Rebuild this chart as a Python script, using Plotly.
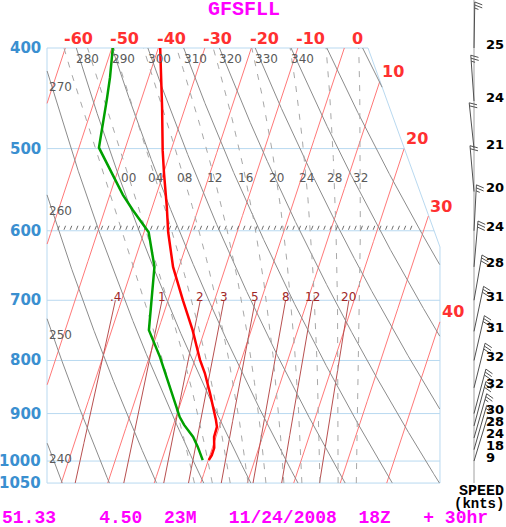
import numpy as np
import plotly.graph_objects as go

# -----------------------------
# Sounding (hPa, degC)
# -----------------------------
temp_pres = [998, 987, 971, 948, 927, 913, 860, 823, 799, 748, 700, 650, 602, 569, 528, 502, 456, 400]
temp_c = [0.1, 0.4, 0.4, -0.4, -0.5, -1.2, -4.4, -6.9, -8.9, -12.6, -16.8, -21.3, -24.8, -26.9,
          -29.9, -31.8, -35.0, -39.6]

dewp_pres = [998, 969, 948, 923, 907, 887, 835, 794, 748, 700, 650, 602, 595, 573, 554, 540, 499,
             449, 427, 400]
dewp_c = [-1.2, -3.2, -4.9, -7.7, -9.2, -10.6, -14.4, -17.7, -22.0, -23.5, -25.3, -29.0, -30.2,
          -34.0, -37.2, -39.3, -45.7, -47.4, -48.3, -49.8]

# winds (hPa, knots, direction in degrees)
wind_pres = [400, 450, 500, 550, 600, 650, 700, 750, 800, 850, 900, 925, 950, 975, 1000]
wind_kt = [25, 24, 21, 20, 24, 28, 31, 31, 32, 32, 30, 28, 24, 18, 9]
wind_dir = [1, 356, 354, 355, 3, 5, 10, 12, 13, 14, 15, 15, 16, 16, 17]

# background line families
isotherms = [-60, -50, -40, -30, -20, -10, 0, 10, 20, 30, 40]
dry_adiabats = [240, 250, 260, 270, 280, 290, 300, 310, 320, 330, 340, 350, 360]
dry_labels = [240, 250, 260, 270, 280, 290, 300, 310, 320, 330, 340]
moist_adiabats = [-4, 0, 4, 8, 12, 16, 20, 24, 28, 32]
moist_labels = [0, 4, 8, 12, 16, 20, 24, 28, 32]
mixing_ratios = [0.4, 1, 2, 3, 5, 8, 12, 20]
mixing_text = [".4", "1", "2", "3", "5", "8", "12", "20"]
pressure_ticks = [400, 500, 600, 700, 800, 900, 1000, 1050]
grid_pres = [500, 600, 700, 800, 900, 1000]

bottom_text = "51.33    4.50  23M   11/24/2008  18Z   + 30hr"

# -----------------------------
# Diagram geometry
# -----------------------------
W, H = 506, 527
SKEW = 32.0                      # degC shift per unit ln(p)
X_RANGE = [-44.73, 64.09]
P_TOP, P_BOT = 359.6, 1157.5
X_MIN, X_MAX, X_TOPRIGHT = -34.62, 49.89, 34.41
P_FTOP, P_FBOT, P_CORNER = 400.0, 1050.0, 622.0
PX_X = W / (X_RANGE[1] - X_RANGE[0])
PX_LNP = H / np.log(P_BOT / P_TOP)

RED_LINE = "#ff7878"
MIX_LINE = "#b85050"
DRY_LINE = "#8c8c8c"
MOIST_LINE = "#a8a8a8"
GRID = "#b9d9f0"
BLUE_TXT = "#3a8fd0"
RED_TXT = "#ff3030"
GREY_TXT = "#5a5a5a"
MAGENTA = "#ff00ff"


def skew(t, p):
    return np.asarray(t) + SKEW * np.log(1000.0 / np.asarray(p))


def x_right(p):
    p = np.asarray(p, dtype=float)
    slant = X_TOPRIGHT + (X_MAX - X_TOPRIGHT) * np.log(p / P_FTOP) / np.log(P_CORNER / P_FTOP)
    return np.where(p >= P_CORNER, X_MAX, slant)


def inside(x, p):
    return (p >= P_FTOP - 1e-6) & (p <= P_FBOT + 1e-6) & (x >= X_MIN) & (x <= x_right(p))


P_DENSE = np.geomspace(P_FTOP, P_FBOT, 700)


def add_clipped(xs, ys, x, p):
    ok = inside(x, p)
    for xi, pi, k in zip(x, p, ok):
        xs.append(float(xi) if k else None)
        ys.append(float(pi) if k else None)
    xs.append(None)
    ys.append(None)


def top_exit(x, p):
    ok = inside(x, p)
    i = np.argmin(np.where(ok, p, np.inf))
    return float(x[i]), float(p[i])


def moist_profile(tw_c, p_grid):
    rd, cp, lv, eps = 287.04, 1005.7, 2.501e6, 0.622

    def dtdp(t, p):
        es = 6.112 * np.exp(17.67 * (t - 273.15) / (t - 29.65))
        rs = eps * es / (p - es)
        return (rd * t + lv * rs) / p / (cp + lv * lv * rs * eps / (rd * t * t))

    out = [tw_c + 273.15]
    for p0, p1 in zip(p_grid[:-1], p_grid[1:]):
        t, h = out[-1], p1 - p0
        k1 = dtdp(t, p0)
        k2 = dtdp(t + 0.5 * h * k1, p0 + 0.5 * h)
        k3 = dtdp(t + 0.5 * h * k2, p0 + 0.5 * h)
        k4 = dtdp(t + h * k3, p1)
        out.append(t + h * (k1 + 2 * k2 + 2 * k3 + k4) / 6)
    return np.array(out) - 273.15


fig = go.Figure()
ann = []

# grid lines and frame
gx, gy = [], []
for p in grid_pres:
    gx += [X_MIN, float(x_right(p)), None]
    gy += [p, p, None]
gx += [X_MIN, X_TOPRIGHT, X_MAX, X_MAX, X_MIN, X_MIN]
gy += [P_FTOP, P_FTOP, P_CORNER, P_FBOT, P_FBOT, P_FTOP]
fig.add_trace(go.Scatter(x=gx, y=gy, mode="lines", line=dict(color=GRID, width=1)))

# isotherms
ix, iy = [], []
for t in isotherms:
    x = skew(t, P_DENSE)
    add_clipped(ix, iy, x, P_DENSE)
    ex, ep = top_exit(x, P_DENSE)
    ann.append(dict(x=ex, y=np.log10(ep), text=str(t), xshift=13, yshift=10,
                    font=dict(family="DejaVu Sans", size=16, color=RED_TXT), xanchor="center",
                    yanchor="middle"))
fig.add_trace(go.Scatter(x=ix, y=iy, mode="lines", line=dict(color=RED_LINE, width=1)))

# mixing ratio lines (surface up to 700 hPa)
mx, my = [], []
p_mix = np.geomspace(700, P_FBOT, 300)
for w, lab in zip(mixing_ratios, mixing_text):
    e = w * p_mix / (622.0 + w)
    a = np.log(e / 6.112)
    t = 243.5 * a / (17.67 - a)
    x = skew(t, p_mix)
    add_clipped(mx, my, x, p_mix)
    ann.append(dict(x=float(x[0]), y=np.log10(700), text=lab, yshift=3,
                    font=dict(family="DejaVu Sans", size=12, color="#a02828"),
                    xanchor="center", yanchor="middle"))
fig.add_trace(go.Scatter(x=mx, y=my, mode="lines", line=dict(color=MIX_LINE, width=1)))

# dry adiabats
dx_, dy_ = [], []
for th in dry_adiabats:
    t = th * (P_DENSE / 1000.0) ** 0.2857 - 273.15
    x = skew(t, P_DENSE)
    add_clipped(dx_, dy_, x, P_DENSE)
    if th in dry_labels:
        ex, ep = top_exit(x, P_DENSE)
        if ep <= P_FTOP + 0.5:
            ann.append(dict(x=ex, y=np.log10(ep), text=str(th), yshift=-2, xshift=-2, xanchor="left",
                            yanchor="top", font=dict(family="DejaVu Sans", size=12, color=GREY_TXT)))
        else:
            ann.append(dict(x=X_MIN, y=np.log10(ep), text=str(th), yshift=-7, xanchor="left",
                            yanchor="top", font=dict(family="DejaVu Sans", size=12, color=GREY_TXT)))
fig.add_trace(go.Scatter(x=dx_, y=dy_, mode="lines", line=dict(color=DRY_LINE, width=1)))

# moist adiabats
wx, wy = [], []
p_up = np.linspace(1000, P_FTOP, 400)
p_dn = np.linspace(1000, P_FBOT, 40)
for tw in moist_adiabats:
    t_up = moist_profile(tw, p_up)
    t_dn = moist_profile(tw, p_dn)
    pp = np.concatenate([p_dn[::-1], p_up[1:]])
    tt = np.concatenate([t_dn[::-1], t_up[1:]])
    x = skew(tt, pp)
    add_clipped(wx, wy, x, pp)
    if tw in moist_labels:
        xl = float(np.interp(534, pp[::-1], x[::-1]))
        ann.append(dict(x=xl, y=np.log10(534), text="%02d" % tw, xanchor="center", yanchor="middle",
                        font=dict(family="DejaVu Sans", size=12, color=GREY_TXT)))
fig.add_trace(go.Scatter(x=wx, y=wy, mode="lines",
                         line=dict(color=MOIST_LINE, width=1, dash="6px,8px")))

# row of small ticks along 600 hPa
tx, ty = [], []
for xt in np.arange(-32.3, 44.6, 1.33):
    tx += [xt, xt + 1.6 / PX_X, None]
    ty += [600 * np.exp(-1 / PX_LNP), 600 * np.exp(-5 / PX_LNP), None]
fig.add_trace(go.Scatter(x=tx, y=ty, mode="lines", line=dict(color="#707070", width=1)))

# sounding
fig.add_trace(go.Scatter(x=skew(dewp_c, dewp_pres), y=dewp_pres, mode="lines",
                         line=dict(color="#00a000", width=2.5)))
fig.add_trace(go.Scatter(x=skew(temp_c, temp_pres), y=temp_pres, mode="lines",
                         line=dict(color="#ff0000", width=2.5)))

# wind staff and barbs (x2 is in pixels)
STAFF = 474
SHAFT = 46
fig.add_trace(go.Scatter(x=[STAFF, STAFF], y=[P_TOP, P_FBOT], xaxis="x2", mode="lines",
                         line=dict(color="#a0a0a0", width=1)))
bx, by = [], []
for p, spd, d in zip(wind_pres, wind_kt, wind_dir):
    r = np.radians(d)
    ux, uy = np.sin(r), np.cos(r)
    tipx = STAFF + SHAFT * ux
    tip_up = SHAFT * uy
    bx += [STAFF, tipx, None]
    by += [p, p * np.exp(-tip_up / PX_LNP), None]
    fives = int(round(spd / 5.0))
    full, half = fives // 2, fives % 2
    lens = [8] * full + [4] * half
    tilt = np.radians(20)
    qx = np.cos(r) * np.cos(tilt) - ux * np.sin(tilt)
    qy = -np.sin(r) * np.cos(tilt) - uy * np.sin(tilt)
    for k, ln in enumerate(lens):
        sx = tipx - 3 * k * ux
        sup = tip_up - 3 * k * uy
        bx += [sx, sx + ln * qx, None]
        by += [p * np.exp(-sup / PX_LNP), p * np.exp(-(sup + ln * qy) / PX_LNP), None]
    ann.append(dict(x=484, xref="x2", y=np.log10(p), text=str(spd), xanchor="left",
                    yanchor="middle", yshift=4,
                    font=dict(family="DejaVu Sans", size=13, color="black")))
fig.add_trace(go.Scatter(x=bx, y=by, xaxis="x2", mode="lines", line=dict(color="#505050", width=1)))

# pressure labels
for p in pressure_ticks:
    ann.append(dict(x=X_MIN, y=np.log10(p), text=str(p), xanchor="right", yanchor="middle",
                    xshift=-4, font=dict(family="DejaVu Sans", size=15, color=BLUE_TXT)))

for a in ann:
    a.setdefault("xref", "x")
    a["yref"] = "y"
    a["showarrow"] = False
    a["text"] = "<b>%s</b>" % a["text"] if a["font"]["color"] in (RED_TXT, BLUE_TXT, "black") else a["text"]

mono = dict(family="Liberation Mono", color=MAGENTA)
ann += [
    dict(x=244 / W, y=1 - 10 / H, xref="paper", yref="paper", text="<b>GFSFLL</b>", showarrow=False,
         xanchor="center", yanchor="middle", font=dict(size=20, **mono)),
    dict(x=0, y=1 - 518 / H, xref="paper", yref="paper", text="<b>%s</b>" % bottom_text.replace(" ", "&nbsp;"),
         showarrow=False, xanchor="left", yanchor="middle", font=dict(size=18, **mono)),
    dict(x=506 / W, y=1 - 491 / H, xref="paper", yref="paper", text="<b>SPEED</b>", showarrow=False,
         xanchor="right", yanchor="middle", font=dict(family="Liberation Mono", size=15, color="black")),
    dict(x=506 / W, y=1 - 504 / H, xref="paper", yref="paper", text="<b>(knts)</b>", showarrow=False,
         xanchor="right", yanchor="middle", font=dict(family="Liberation Mono", size=14, color="black")),
]

fig.update_traces(hoverinfo="skip", selector=dict(type="scatter"))
fig.update_layout(
    width=W, height=H,
    margin=dict(l=0, r=0, t=0, b=0),
    paper_bgcolor="white", plot_bgcolor="white",
    showlegend=False,
    xaxis=dict(range=X_RANGE, visible=False, fixedrange=True),
    xaxis2=dict(range=[0, W], overlaying="x", anchor="y", visible=False, fixedrange=True),
    yaxis=dict(type="log", range=[np.log10(P_BOT), np.log10(P_TOP)], visible=False, fixedrange=True),
    annotations=ann,
)

fig.write_html("out.html", config=dict(displayModeBar=False),
               post_script="document.body.style.margin='0px';")
